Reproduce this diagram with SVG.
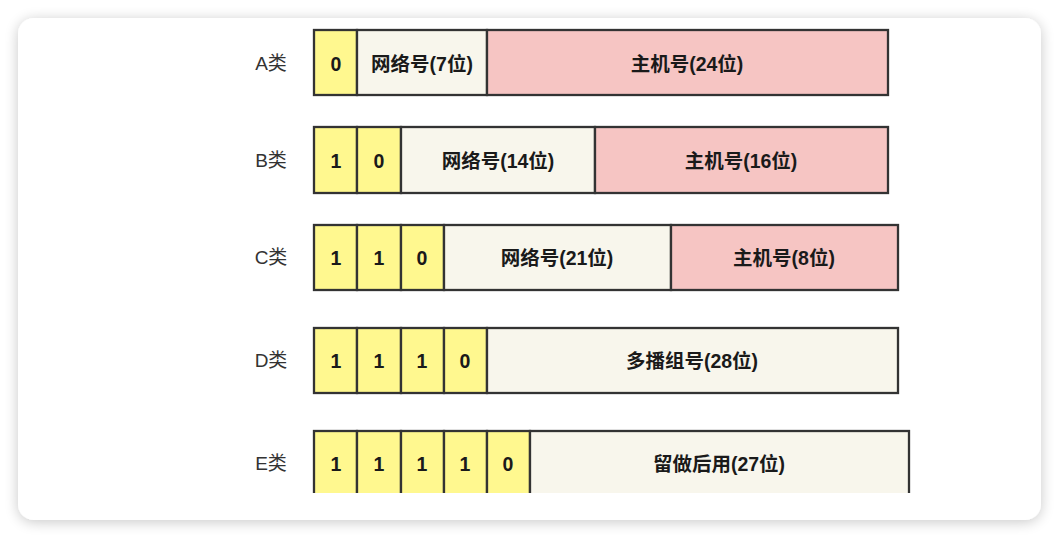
<svg xmlns="http://www.w3.org/2000/svg" width="1059" height="538" viewBox="0 0 1059 538">
<defs>
<filter id="sh" x="-10%" y="-10%" width="120%" height="120%">
<feGaussianBlur in="SourceAlpha" stdDeviation="7"/>
<feOffset dx="0" dy="2"/>
<feComponentTransfer><feFuncA type="linear" slope="0.22"/></feComponentTransfer>
<feMerge><feMergeNode/><feMergeNode in="SourceGraphic"/></feMerge>
</filter>
<clipPath id="clip"><rect x="18" y="18" width="1023" height="475"/></clipPath>
<style>
.y{fill:#fff88f;stroke:#333;stroke-width:2.3}
.b{fill:#f8f6ec;stroke:#333;stroke-width:2.3}
.p{fill:#f6c5c3;stroke:#333;stroke-width:2.3}
.t{font-family:"Liberation Sans","Noto Sans CJK SC",sans-serif;font-weight:bold;font-size:19.5px;fill:#1a1a1a;text-anchor:middle;dominant-baseline:central}
.l{font-family:"Liberation Sans","Noto Sans CJK SC",sans-serif;font-size:19px;fill:#333;text-anchor:middle;dominant-baseline:central}
</style>
</defs>
<rect width="1059" height="538" fill="#ffffff"/>
<rect x="18" y="18" width="1023" height="502" rx="16" fill="#ffffff" filter="url(#sh)"/>
<g clip-path="url(#clip)">
<g id="rowA">
<text class="l" x="271" y="63">A类</text>
<rect class="y" x="314" y="30" width="43" height="65"/>
<text class="t" x="336" y="64">0</text>
<rect class="b" x="357" y="30" width="130" height="65"/>
<text class="t" x="422" y="64">网络号(7位)</text>
<rect class="p" x="487" y="30" width="401" height="65"/>
<text class="t" x="687" y="64">主机号(24位)</text>
</g>
<g id="rowB">
<text class="l" x="271" y="160">B类</text>
<rect class="y" x="314" y="127" width="43" height="66"/>
<text class="t" x="336" y="161">1</text>
<rect class="y" x="357" y="127" width="44" height="66"/>
<text class="t" x="379" y="161">0</text>
<rect class="b" x="401" y="127" width="194" height="66"/>
<text class="t" x="498" y="161">网络号(14位)</text>
<rect class="p" x="595" y="127" width="293" height="66"/>
<text class="t" x="741" y="161">主机号(16位)</text>
</g>
<g id="rowC">
<text class="l" x="271" y="257">C类</text>
<rect class="y" x="314" y="225" width="43" height="65"/>
<text class="t" x="336" y="258">1</text>
<rect class="y" x="357" y="225" width="44" height="65"/>
<text class="t" x="379" y="258">1</text>
<rect class="y" x="401" y="225" width="43" height="65"/>
<text class="t" x="422" y="258">0</text>
<rect class="b" x="444" y="225" width="227" height="65"/>
<text class="t" x="557" y="258">网络号(21位)</text>
<rect class="p" x="671" y="225" width="227" height="65"/>
<text class="t" x="784" y="258">主机号(8位)</text>
</g>
<g id="rowD">
<text class="l" x="271" y="360">D类</text>
<rect class="y" x="314" y="328" width="43" height="65"/>
<text class="t" x="336" y="361">1</text>
<rect class="y" x="357" y="328" width="44" height="65"/>
<text class="t" x="379" y="361">1</text>
<rect class="y" x="401" y="328" width="43" height="65"/>
<text class="t" x="422" y="361">1</text>
<rect class="y" x="444" y="328" width="43" height="65"/>
<text class="t" x="465" y="361">0</text>
<rect class="b" x="487" y="328" width="411" height="65"/>
<text class="t" x="692" y="361">多播组号(28位)</text>
</g>
<g id="rowE">
<text class="l" x="271" y="463">E类</text>
<rect class="y" x="314" y="431" width="43" height="80"/>
<text class="t" x="336" y="464">1</text>
<rect class="y" x="357" y="431" width="44" height="80"/>
<text class="t" x="379" y="464">1</text>
<rect class="y" x="401" y="431" width="43" height="80"/>
<text class="t" x="422" y="464">1</text>
<rect class="y" x="444" y="431" width="43" height="80"/>
<text class="t" x="465" y="464">1</text>
<rect class="y" x="487" y="431" width="43" height="80"/>
<text class="t" x="508" y="464">0</text>
<rect class="b" x="530" y="431" width="379" height="80"/>
<text class="t" x="719" y="464">留做后用(27位)</text>
</g>
</g>
<g id="connectors"/>
</svg>
